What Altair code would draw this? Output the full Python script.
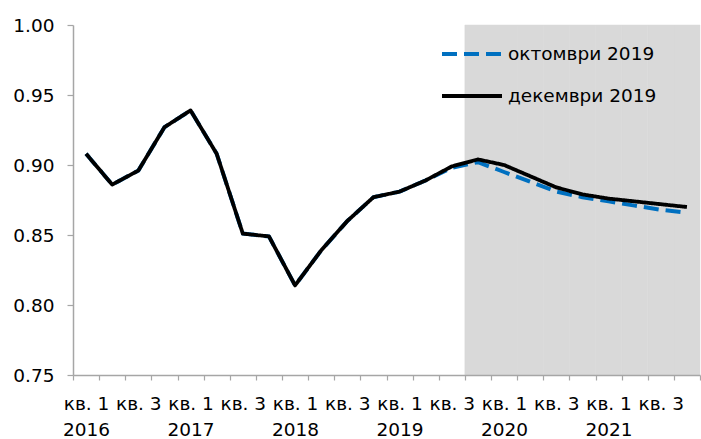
import altair as alt
import pandas as pd

# Quarterly periods 2016 Q1 - 2021 Q4
years = [2016, 2017, 2018, 2019, 2020, 2021]
quarters = [1, 2, 3, 4]
periods = [f"{y}|{q}" for y in years for q in quarters]

series_names = ["октомври 2019", "декември 2019"]

october_2019 = [0.908, 0.886, 0.896, 0.927, 0.939, 0.908, 0.851, 0.849,
                0.814, 0.839, 0.860, 0.877, 0.881, 0.889, 0.898, 0.902,
                0.895, 0.888, 0.881, 0.877, 0.874, 0.871, 0.868, 0.866]
december_2019 = [0.908, 0.886, 0.896, 0.927, 0.939, 0.908, 0.851, 0.849,
                 0.814, 0.839, 0.860, 0.877, 0.881, 0.889, 0.899, 0.904,
                 0.900, 0.892, 0.884, 0.879, 0.876, 0.874, 0.872, 0.870]

# first projected quarter (shaded area)
forecast_start = "2019|4"

y_ticks = [0.75, 0.80, 0.85, 0.90, 0.95, 1.00]

lines = pd.DataFrame({
    "period": periods * 2,
    "series": [series_names[0]] * len(periods) + [series_names[1]] * len(periods),
    "value": october_2019 + december_2019,
})
shade = pd.DataFrame({"period": periods[periods.index(forecast_start):]})

FONT = "DejaVu Sans"
AXIS_GREY = "#A6A6A6"

label_expr = (
    "split(datum.value, '|')[1] == '1' ? ['кв. 1', split(datum.value, '|')[0]] : "
    "(split(datum.value, '|')[1] == '3' ? 'кв. 3' : '')"
)

x_enc = alt.X(
    "period:N",
    sort=periods,
    scale=alt.Scale(domain=periods, paddingInner=0, paddingOuter=0),
    axis=alt.Axis(
        title=None, labelAngle=0, tickBand="extent", labelExpr=label_expr,
        labelFont=FONT, labelFontSize=18.5, labelLineHeight=26, labelColor="#000000",
        labelPadding=14, labelOverlap=False, tickSize=5, tickColor=AXIS_GREY,
        domainColor=AXIS_GREY, domainWidth=1.5, tickWidth=1.2,
    ),
)
y_scale = alt.Scale(domain=[0.75, 1.0], nice=False, zero=False)
y_axis = alt.Axis(
    title=None, values=y_ticks, format=".2f", grid=False,
    labelFont=FONT, labelFontSize=18.5, labelColor="#000000", labelPadding=13,
    tickSize=6, tickColor=AXIS_GREY, domainColor=AXIS_GREY, domainWidth=1.5, tickWidth=1.2,
)

legend = alt.Legend(
    title=None, orient="none", legendX=367, legendY=-3,
    symbolType="stroke", symbolSize=3600, symbolStrokeWidth=4,
    labelFont=FONT, labelFontSize=18.5, labelColor="#000000",
    labelOffset=4, rowPadding=-15,
)
color_enc = alt.Color(
    "series:N",
    scale=alt.Scale(domain=series_names, range=["#0070C0", "#000000"]),
    legend=legend,
)
dash_enc = alt.StrokeDash(
    "series:N",
    scale=alt.Scale(domain=series_names, range=[[15, 7], [1, 0]]),
    legend=legend,
)

band = alt.Chart(shade).mark_rect(color="#D9D9D9", stroke="#D9D9D9", strokeWidth=0.5).encode(
    x=x_enc,
    y=alt.YDatum(0.75, scale=y_scale, axis=y_axis),
    y2=alt.Y2Datum(1.0),
)

oct_line = alt.Chart(lines).transform_filter(
    alt.datum.series == series_names[0]
).mark_line(strokeWidth=4, strokeJoin="round").encode(
    x=x_enc,
    y=alt.Y("value:Q", scale=y_scale, axis=y_axis),
    color=color_enc,
    strokeDash=dash_enc,
)

dec_line = alt.Chart(lines).transform_filter(
    alt.datum.series == series_names[1]
).mark_line(strokeWidth=3.8, strokeJoin="round").encode(
    x=x_enc,
    y=alt.Y("value:Q", scale=y_scale, axis=y_axis),
    color=color_enc,
    strokeDash=dash_enc,
)

chart = alt.layer(band, oct_line, dec_line).properties(
    width=627, height=350,
    autosize=alt.AutoSizeParams(type="none"),
    padding={"left": 73, "top": 25, "right": 1, "bottom": 64},
    background="#FFFFFF",
).configure_view(stroke=None)

chart.save("out.html", embed_options={"renderer": "svg", "actions": False})
